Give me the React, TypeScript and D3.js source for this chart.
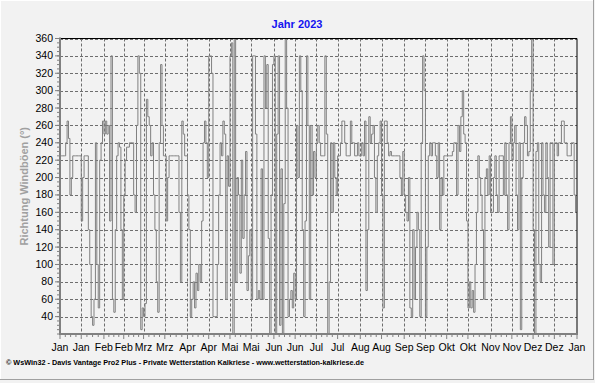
import React from "react";
import * as d3 from "d3";

const W = 595;
const H = 383;

const title = "Jahr 2023";
const yLabel = "Richtung Windböen (°)";
const footer =
  "© WsWin32  -  Davis Vantage Pro2 Plus  -  Private Wetterstation Kalkriese - www.wetterstation-kalkriese.de";
const monthNames = ["Jan", "Feb", "Mrz", "Apr", "Mai", "Jun", "Jul", "Aug", "Sep", "Okt", "Nov", "Dez"];
const yTicks = [40, 60, 80, 100, 120, 140, 160, 180, 200, 220, 240, 260, 280, 300, 320, 340, 360];

// Daily gust direction (°), 1 Jan 2023 .. 31 Dec 2023
const gustDir = [
  225, 225, 225, 225, 240, 265, 245, 180, 200, 225,
  225, 225, 225, 225, 225, 150, 200, 225, 225, 225,
  140, 100, 40, 30, 60, 240, 100, 50, 220, 240,
  265, 250, 265, 250, 260, 150, 340, 60, 45, 140,
  225, 240, 235, 140, 60, 180, 220, 235, 235, 240,
  240, 240, 180, 160, 260, 340, 320, 25, 50, 40,
  55, 290, 270, 260, 225, 240, 180, 140, 80, 45,
  240, 330, 260, 225, 225, 150, 200, 225, 225, 225,
  225, 225, 225, 225, 160, 80, 265, 250, 225, 225,
  180, 140, 40, 60, 80, 50, 90, 70, 100, 80,
  150, 240, 265, 240, 200, 340, 340, 320, 40, 40,
  40, 100, 180, 240, 225, 265, 250, 60, 225, 190,
  340, 355, 20, 360, 80, 200, 180, 90, 220, 130,
  180, 230, 70, 110, 140, 60, 340, 340, 250, 60,
  70, 60, 210, 60, 340, 280, 330, 130, 20, 180,
  330, 340, 20, 250, 340, 30, 210, 20, 170, 360,
  280, 40, 60, 70, 50, 90, 60, 260, 200, 340,
  300, 140, 40, 150, 340, 260, 60, 260, 180, 230,
  200, 240, 260, 240, 225, 225, 225, 340, 250, 20,
  80, 240, 160, 240, 200, 180, 225, 225, 240, 265,
  265, 240, 225, 225, 225, 265, 240, 240, 225, 225,
  240, 225, 225, 240, 225, 265, 70, 140, 270, 240,
  250, 260, 200, 160, 225, 240, 265, 180, 50, 265,
  265, 240, 225, 230, 225, 225, 225, 225, 225, 225,
  200, 180, 230, 180, 160, 150, 200, 50, 40, 140,
  60, 120, 160, 140, 40, 240, 340, 300, 40, 120,
  225, 240, 225, 240, 240, 225, 200, 240, 140, 200,
  180, 225, 225, 225, 225, 225, 225, 230, 240, 240,
  180, 260, 230, 270, 300, 250, 240, 150, 50, 80,
  50, 70, 45, 100, 160, 225, 200, 180, 140, 60,
  200, 210, 180, 225, 160, 160, 200, 225, 180, 160,
  225, 225, 225, 180, 240, 180, 140, 240, 270, 220,
  240, 260, 180, 140, 240, 25, 200, 240, 270, 260,
  225, 230, 300, 360, 140, 20, 230, 240, 100, 80,
  240, 180, 160, 240, 200, 120, 240, 240, 100, 240,
  240, 225, 240, 240, 265, 265, 240, 240, 225, 225,
  225, 240, 240, 180, 160,
];

const PL = 60, PR = 577, PT = 38.5, PB = 334;

export default function App() {
  const start = new Date(2023, 0, 1);
  const end = new Date(2024, 0, 1);
  const x = d3.scaleTime().domain([start, end]).range([PL, PR]);
  const y = d3.scaleLinear().domain([20, 360]).range([PB, PT]);

  const data = gustDir.map((v, i) => ({ date: d3.timeDay.offset(start, i), v }));
  const line = d3
    .line<{ date: Date; v: number }>()
    .x((d) => x(d.date))
    .y((d) => y(d.v))
    .curve(d3.curveStepAfter);
  const path = line([...data, { date: end, v: gustDir[gustDir.length - 1] }]) || "";

  // x ticks: 1st and 16th of each month
  const xTicks: { date: Date; label: string }[] = [];
  for (let m = 0; m < 12; m++) {
    xTicks.push({ date: new Date(2023, m, 1), label: monthNames[m] });
    xTicks.push({ date: new Date(2023, m, m === 1 ? 15 : 16), label: monthNames[m] });
  }
  xTicks.push({ date: end, label: "Jan" });

  // minor x ticks: 4 subdivisions between major ticks
  const minorX: number[] = [];
  for (let i = 0; i < xTicks.length - 1; i++) {
    const a = x(xTicks[i].date), b = x(xTicks[i + 1].date);
    for (let k = 1; k < 4; k++) minorX.push(a + ((b - a) * k) / 4);
  }
  const minorY = d3.range(20, 361, 5);

  const font = "'Liberation Sans', Arial, sans-serif";
  const gridColor = "#6e6e6e";

  return (
    <svg
      width={W}
      height={H}
      style={{ position: "absolute", left: 0, top: 0, display: "block" }}
      xmlns="http://www.w3.org/2000/svg"
    >
      <rect x={0} y={0} width={W} height={H} fill="#f2f2f2" />
      <line x1={0} y1={0.5} x2={593} y2={0.5} stroke="#ffffff" />
      <line x1={0.5} y1={0} x2={0.5} y2={379} stroke="#ffffff" />
      <line x1={0} y1={379.5} x2={594} y2={379.5} stroke="#a0a0a0" />
      <line x1={593.5} y1={0} x2={593.5} y2={380} stroke="#a0a0a0" />

      <text x={297} y={28} textAnchor="middle" fontFamily={font} fontWeight="bold" fontSize={11} fill="#1414f0">
        {title}
      </text>

      {/* grid */}
      {yTicks.map((t) => (
        <line key={"gy" + t} x1={PL} x2={PR} y1={Math.round(y(t)) + 0.5} y2={Math.round(y(t)) + 0.5}
          stroke={gridColor} strokeDasharray="3,2" strokeWidth={1} />
      ))}
      {xTicks.slice(1, -1).map((t, i) => (
        <line key={"gx" + i} x1={Math.round(x(t.date)) + 0.5} x2={Math.round(x(t.date)) + 0.5} y1={PT} y2={PB}
          stroke={gridColor} strokeDasharray="3,2" strokeWidth={1} />
      ))}

      {/* data */}
      <path d={path} fill="none" stroke="#808080" strokeWidth={1} />

      {/* frame */}
      <line x1={PL} x2={PR} y1={PT} y2={PT} stroke="#000" strokeWidth={1} />
      <line x1={PR} x2={PR} y1={PT} y2={PB} stroke="#000" strokeWidth={1} />
      <line x1={PL} x2={PL} y1={PT - 1} y2={PB + 1} stroke="#808080" strokeWidth={2} />
      <line x1={PL - 1} x2={PR + 1} y1={PB} y2={PB} stroke="#808080" strokeWidth={2} />

      {/* y ticks */}
      {minorY.map((t) => (
        <line key={"my" + t} x1={PL - 3} x2={PL} y1={y(t)} y2={y(t)} stroke="#808080" strokeWidth={1} />
      ))}
      {yTicks.map((t) => (
        <g key={"ty" + t}>
          <line x1={PL - 5} x2={PL} y1={y(t)} y2={y(t)} stroke="#808080" strokeWidth={1} />
          <text x={PL - 7} y={y(t) + 3.5} textAnchor="end" fontFamily={font} fontSize={10.5} fill="#000">
            {t}
          </text>
        </g>
      ))}

      {/* x ticks */}
      {minorX.map((v, i) => (
        <line key={"mx" + i} x1={v} x2={v} y1={PB} y2={PB + 3} stroke="#808080" strokeWidth={1} />
      ))}
      {xTicks.map((t, i) => (
        <g key={"tx" + i}>
          <line x1={x(t.date)} x2={x(t.date)} y1={PB} y2={PB + 5} stroke="#808080" strokeWidth={1} />
          <text x={x(t.date)} y={351} textAnchor="middle" fontFamily={font} fontSize={10.5} fill="#000">
            {t.label}
          </text>
        </g>
      ))}

      <text
        transform={`translate(28,${(PT + PB) / 2}) rotate(-90)`}
        textAnchor="middle"
        fontFamily={font}
        fontWeight="bold"
        fontSize={11}
        fill="#a0a0a0"
      >
        {yLabel}
      </text>

      <text x={6} y={365} fontFamily={font} fontWeight="bold" fontSize={6.5} fill="#000"
        textLength={358} lengthAdjust="spacingAndGlyphs">
        {footer}
      </text>
    </svg>
  );
}
